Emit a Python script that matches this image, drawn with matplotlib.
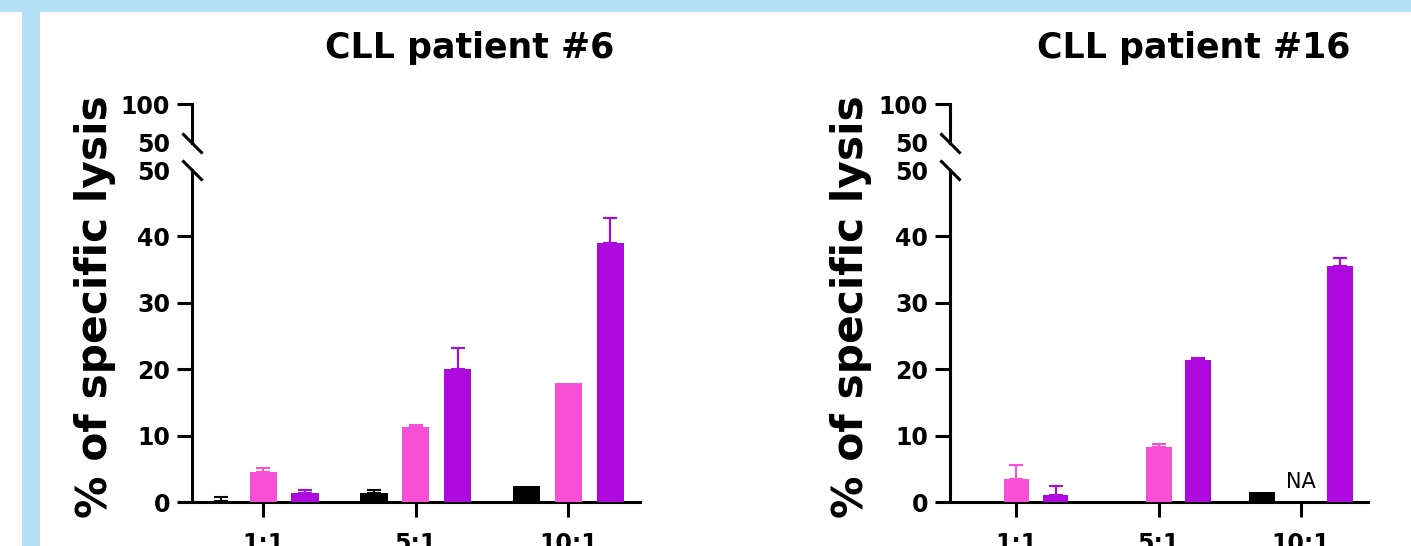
import numpy as np
import matplotlib
matplotlib.use("Agg")
import matplotlib.pyplot as plt
from matplotlib.patches import Rectangle

plt.rcParams['font.family'] = ['DejaVu Sans']

# data (% of specific lysis, mean and upper error)
ratios = ['1:1', '5:1', '10:1']

p6_black = [0.1, 1.4, 2.4]
p6_black_err = [0.65, 0.4, 0.0]
p6_pink = [4.5, 11.3, 17.9]
p6_pink_err = [0.6, 0.3, 0.0]
p6_purple = [1.4, 20.0, 39.0]
p6_purple_err = [0.4, 3.2, 3.8]

p16_black = [0.0, 0.0, 1.5]
p16_black_err = [0.0, 0.0, 0.0]
p16_pink = [3.4, 8.3, np.nan]
p16_pink_err = [2.1, 0.4, 0.0]
p16_purple = [1.0, 21.4, 35.5]
p16_purple_err = [1.4, 0.3, 1.2]

BLACK = '#000000'
PINK = '#f74fd6'
PURPLE = '#ad09df'
FRAME = '#b4e1f6'

W, H = 1411, 546
fig = plt.figure(figsize=(W / 100, H / 100), dpi=100)

# light blue frame at top / left
fig.add_artist(Rectangle((0, 1 - 12 / H), 1, 12 / H, transform=fig.transFigure,
                         color=FRAME, lw=0))
fig.add_artist(Rectangle((22 / W, 0), 18 / W, 1 - 12 / H, transform=fig.transFigure,
                         color=FRAME, lw=0))

LW = 2.2
TICK_LEN = 10.8


def px_box(x0, x1, ytop, ybot):
    return [x0 / W, 1 - ybot / H, (x1 - x0) / W, (ybot - ytop) / H]


def style_axis(ax):
    for s in ['top', 'right']:
        ax.spines[s].set_visible(False)
    for s in ['left', 'bottom']:
        ax.spines[s].set_linewidth(LW)
    ax.tick_params(axis='both', length=TICK_LEN, width=LW, labelsize=17, pad=5)
    for lab in ax.get_yticklabels() + ax.get_xticklabels():
        lab.set_fontweight('bold')


def panel(x0, x1, title, title_x, ylabel_x, black, black_err, pink, pink_err,
          purple, purple_err, na_text=False):
    ax = fig.add_axes(px_box(x0, x1, 170, 502))
    top = fig.add_axes(px_box(x0, x1, 104, 143), sharex=ax)

    x = np.arange(len(ratios))
    off, bw = 0.275, 0.18
    for vals, errs, col, dx in [(black, black_err, BLACK, -off),
                                (pink, pink_err, PINK, 0.0),
                                (purple, purple_err, PURPLE, off)]:
        vals = np.array(vals, dtype=float)
        errs = np.array(errs, dtype=float)
        ax.bar(x + dx, vals, width=bw, color=col, zorder=3)
        m = (errs > 0) & ~np.isnan(vals)
        if m.any():
            ax.errorbar((x + dx)[m], vals[m], yerr=[np.zeros(m.sum()), errs[m]],
                        fmt='none', ecolor=col, elinewidth=1.5, capsize=4.7,
                        capthick=1.5, zorder=2)

    ax.set_xlim(-0.467, 2.47)
    ax.set_ylim(0, 50)
    ax.set_yticks([0, 10, 20, 30, 40, 50])
    ax.set_xticks(x)
    ax.set_xticklabels(ratios)
    style_axis(ax)
    ax.tick_params(axis='x', labelsize=17, pad=11)
    for lab in ax.get_xticklabels():
        lab.set_fontweight('bold')
    ax.yaxis.get_major_ticks()[-1].tick1line.set_visible(False)

    top.set_ylim(50, 100)
    top.set_yticks([50, 100])
    style_axis(top)
    top.spines['bottom'].set_visible(False)
    top.tick_params(axis='x', bottom=False, labelbottom=False)
    top.yaxis.get_major_ticks()[0].tick1line.set_visible(False)
    top.patch.set_visible(False)

    # break marks
    kw = dict(marker=[(-1, 1), (1, -1)], markersize=14.5, linestyle='none',
              color='k', mec='k', mew=LW, clip_on=False)
    top.plot([0], [0], transform=top.transAxes, **kw)
    ax.plot([0], [1], transform=ax.transAxes, **kw)

    if na_text:
        ax.text(2.0, 2.1, 'NA', ha='center', va='baseline', fontsize=15)

    fig.text(title_x / W, 1 - 58 / H, title, ha='center', va='baseline',
             fontsize=25, fontweight='bold')
    fig.text(ylabel_x / W, 1 - 307 / H, '% of specific lysis', rotation=90,
             ha='center', va='center', fontsize=30.5, fontweight='bold')
    return ax


panel(192, 640, 'CLL patient #6', 470, 95, p6_black, p6_black_err,
      p6_pink, p6_pink_err, p6_purple, p6_purple_err)
panel(950, 1368, 'CLL patient #16', 1194, 851, p16_black, p16_black_err,
      p16_pink, p16_pink_err, p16_purple, p16_purple_err, na_text=True)

fig.savefig('out.png', dpi=100)
